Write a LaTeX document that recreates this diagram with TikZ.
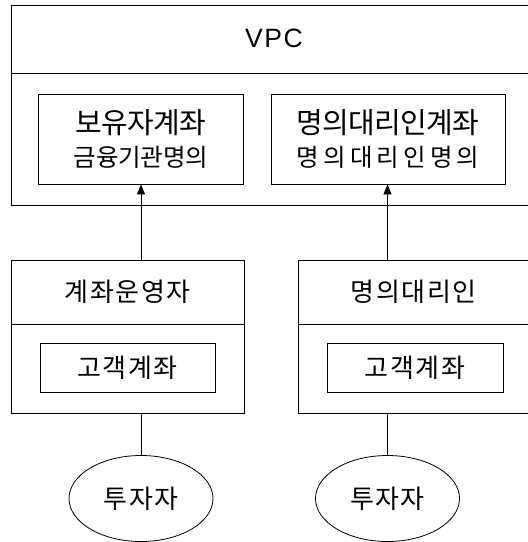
\documentclass[tikz,border=0pt]{standalone}
\usepackage{fontspec}
\setmainfont{Liberation Sans}
\newfontfamily\krA[LetterSpace=-2]{Noto Sans CJK KR}
\newfontfamily\krB[LetterSpace=6]{Noto Sans CJK KR}
\newfontfamily\krC[LetterSpace=17]{Noto Sans CJK KR}
\newfontfamily\krD[LetterSpace=-1]{Noto Sans CJK KR}
\newfontfamily\vpcfont[LetterSpace=6]{Liberation Sans}
\usetikzlibrary{arrows.meta,shapes.geometric}
\tikzset{
  box/.style={draw, line width=0.8pt, inner sep=0pt},
  lbl/.style={inner sep=0pt, font=\krB\fontsize{26}{28}\selectfont},
  conn/.style={line width=0.8pt},
  arr/.style={line width=0.8pt, -{Triangle[width=8pt,length=10pt]}},
  inv/.style={draw, ellipse, line width=0.8pt, minimum width=144pt, minimum height=86pt, inner sep=0pt, font=\krB\fontsize{26}{28}\selectfont}
}
\begin{document}
\begin{tikzpicture}[x=1pt,y=-1pt]
\useasboundingbox (0,0) rectangle (528,542);
\clip (0,0) rectangle (528,542);
\fill[white] (0,0) rectangle (528,542);
% VPC
\node[box, anchor=north west, minimum width=520pt, minimum height=200pt] (vpc) at (11,5) {};
\coordinate (vpcdiv) at (11,73);
\draw[conn] (vpcdiv) -- (vpcdiv -| vpc.east);
\node[inner sep=0pt, font=\vpcfont\fontsize{26.5}{28}\selectfont] (vpct) at (274,38) {VPC};
\node[box, minimum width=205pt, minimum height=90pt, align=center] (acc1) at (140.5,139) {};
\node[inner sep=0pt, font=\krA\fontsize{29}{30}\selectfont] (acc1a) at (141,123) {보유자계좌};
\node[inner sep=0pt, font=\krD\fontsize{24.5}{26}\selectfont] (acc1b) at (141,157) {금융기관명의};
\node[box, minimum width=234pt, minimum height=90pt] (acc2) at (388,139) {};
\node[inner sep=0pt, font=\krA\fontsize{29}{30}\selectfont] (acc2a) at (388,123) {명의대리인계좌};
\node[inner sep=0pt, font=\krC\fontsize{24.5}{26}\selectfont] (acc2b) at (388,157) {명의대리인명의};
% operators
\node[box, anchor=north west, minimum width=233pt, minimum height=153pt] (op1) at (11,260) {};
\coordinate (op1div) at (11,324);
\draw[conn] (op1div) -- (op1div -| op1.east);
\node[lbl] (op1t) at (127.5,292) {계좌운영자};
\node[box, anchor=north west, minimum width=233pt, minimum height=153pt] (op2) at (298,260) {};
\coordinate (op2div) at (298,324);
\draw[conn] (op2div) -- (op2div -| op2.east);
\node[lbl] (op2t) at (413.5,292) {명의대리인};
\node[box, minimum width=175pt, minimum height=49pt, lbl] (cust1) at (127.5,367.5) {고객계좌};
\node[box, minimum width=176pt, minimum height=49pt, lbl] (cust2) at (415,367.5) {고객계좌};
% investors
\node[inv] (inv1) at (141,498.5) {투자자};
\node[inv] (inv2) at (387.5,498.5) {투자자};
% connectors
\draw[arr] (op1.north -| inv1) -- (acc1.south -| inv1);
\draw[arr] (op2.north -| inv2) -- (acc2.south -| inv2);
\draw[conn] (op1.south -| inv1) -- (inv1.north);
\draw[conn] (op2.south -| inv2) -- (inv2.north);
\end{tikzpicture}
\end{document}
